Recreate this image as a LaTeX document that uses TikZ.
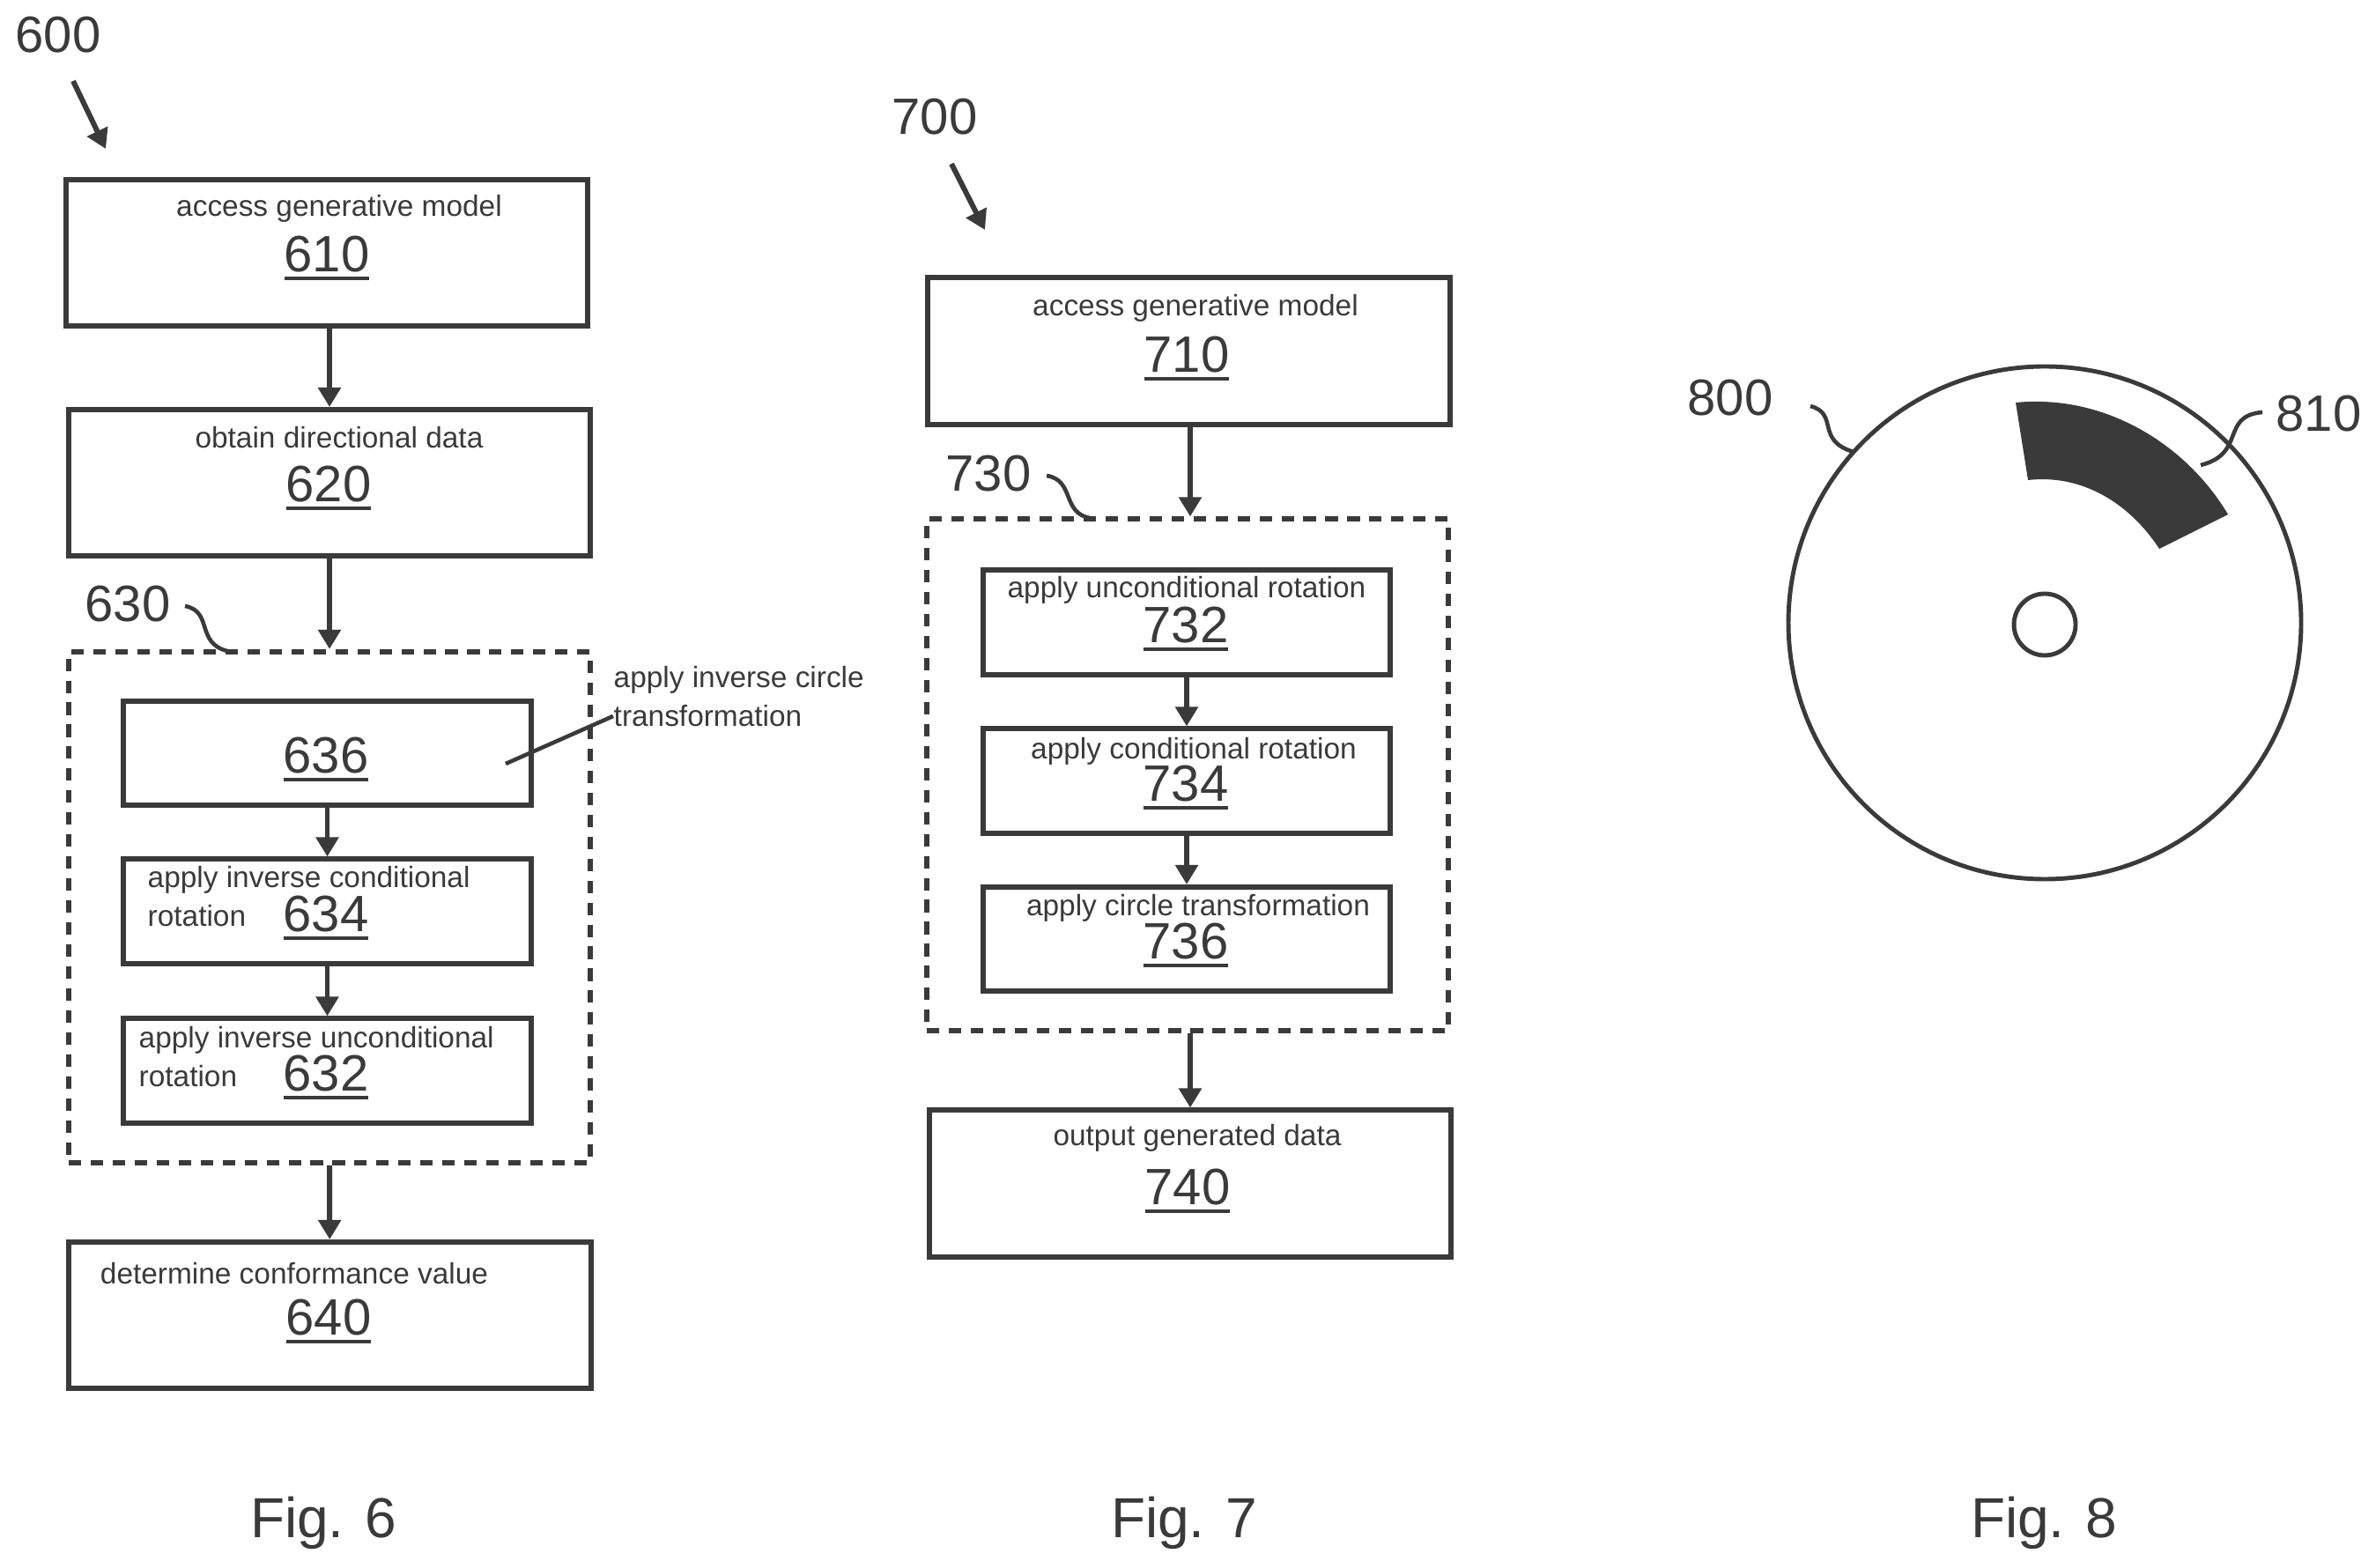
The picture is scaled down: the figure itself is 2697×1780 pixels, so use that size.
\documentclass[tikz,border=0pt]{standalone}
\usepackage{fontspec}
\setmainfont{Liberation Sans}
\usetikzlibrary{arrows.meta, calc, positioning}
\definecolor{ink}{HTML}{3A3A3A}
\newsavebox{\numbox}
\newcommand{\refnum}[1]{\sbox{\numbox}{#1}\rlap{\usebox{\numbox}}\rule[-2.6pt]{\wd\numbox}{1pt}}
\tikzset{
	stepbox/.style={draw=ink, line width=1.7pt, inner sep=0pt},
	bigbox/.style={stepbox, minimum width=5.92cm, minimum height=1.66cm},
	smallbox/.style={stepbox, minimum width=4.62cm, minimum height=1.18cm},
	groupbox/.style={draw=ink, line width=1.7pt, dash pattern=on 4pt off 3.1pt, inner sep=0pt, minimum width=5.92cm},
	flow/.style={draw=ink, line width=1.7pt, ->, >={Stealth[inset=0pt, length=2.2mm, width=2.5mm]}},
	lead/.style={draw=ink, line width=1.3pt},
	lab/.style={text=ink, inner sep=0pt, font=\fontsize{9.5}{12}\selectfont},
	num/.style={text=ink, inner sep=0pt, font=\fontsize{16.5}{18}\selectfont},
	figlab/.style={text=ink, inner sep=0pt, font=\fontsize{18.2}{20}\selectfont}
}
\begin{document}
\begin{tikzpicture}[x=0.01cm, y=-0.01cm]
\useasboundingbox (0,0) rectangle (2697,1780);
% Fig. 6
\node[num] (n600) at (66,40) {600};
\coordinate (a600) at (83,92);
\coordinate (b600) at (120,169);
\draw[flow] (a600) -- (b600);
\node[bigbox] (box610) at (371,287) {};
\node[lab] (t610) at (385,237) {access generative model};
\node[num] (n610) at (371,293) {\refnum{610}};
\node[bigbox] (box620) at (374,548) {};
\node[lab] (t620) at (385,497) {obtain directional data};
\node[num] (n620) at (373,554) {\refnum{620}};
\node[groupbox, minimum height=5.8cm] (box630) at (374,1030) {};
\node[num] (n630) at (145,686) {630};
\coordinate (a630) at (210,688);
\coordinate (b630) at (258,739);
\draw[lead] (a630) .. controls (242,694) and (222,730) .. (b630);
\node[smallbox] (box636) at (371.5,855) {};
\node[num] (n636) at (370,862) {\refnum{636}};
\node[lab, anchor=west] (t636a) at (696,772) {apply inverse circle};
\node[lab, anchor=west] (t636b) at (696,813) {transformation};
\coordinate (c636) at (574,867);
\draw[lead] (t636b.west) -- (c636);
\node[smallbox] (box634) at (371.5,1034.5) {};
\node[lab, anchor=west] (t634a) at (167,999) {apply inverse conditional};
\node[lab, anchor=west] (t634b) at (167,1040) {rotation};
\node[num] (n634) at (370,1042) {\refnum{634}};
\node[smallbox] (box632) at (371.5,1215.5) {};
\node[lab, anchor=west] (t632a) at (157,1181) {apply inverse unconditional};
\node[lab, anchor=west] (t632b) at (157,1222) {rotation};
\node[num] (n632) at (370,1223) {\refnum{632}};
\node[bigbox] (box640) at (374.5,1493) {};
\node[lab] (t640) at (334,1446) {determine conformance value};
\node[num] (n640) at (373,1500) {\refnum{640}};
\draw[flow] (box610.south -| box620.north) -- (box620.north);
\draw[flow] (box620) -- (box630.north);
\draw[flow] (box636) -- (box634);
\draw[flow] (box634) -- (box632);
\draw[flow] (box630.south) -- (box640);
\node[figlab] (fig6) at (367,1729) {Fig. 6};
% Fig. 7
\node[num] (n700) at (1061,133) {700};
\coordinate (a700) at (1080,186);
\coordinate (b700) at (1118,261);
\draw[flow] (a700) -- (b700);
\node[bigbox] (box710) at (1349.5,398.5) {};
\node[lab] (t710) at (1357,350) {access generative model};
\node[num] (n710) at (1347,407) {\refnum{710}};
\node[groupbox, minimum height=5.8cm] (box730) at (1348,879.5) {};
\node[num] (n730) at (1122,538) {730};
\coordinate (a730) at (1188,540);
\coordinate (b730) at (1237,588);
\draw[lead] (a730) .. controls (1220,545) and (1205,582) .. (b730);
\node[smallbox] (box732) at (1347,706.5) {};
\node[lab] (t732) at (1347,670) {apply unconditional rotation};
\node[num] (n732) at (1346,714) {\refnum{732}};
\node[smallbox] (box734) at (1347,886.5) {};
\node[lab] (t734) at (1355,853) {apply conditional rotation};
\node[num] (n734) at (1346,894) {\refnum{734}};
\node[smallbox] (box736) at (1347,1066) {};
\node[lab] (t736) at (1360,1031) {apply circle transformation};
\node[num] (n736) at (1346,1073) {\refnum{736}};
\node[bigbox] (box740) at (1351,1343.5) {};
\node[lab] (t740) at (1359,1292) {output generated data};
\node[num] (n740) at (1348,1352) {\refnum{740}};
\draw[flow] (box710.south -| box740.north) -- (box730.north -| box740.north);
\draw[flow] (box732) -- (box734);
\draw[flow] (box734) -- (box736);
\draw[flow] (box730.south -| box740.north) -- (box740.north);
\node[figlab] (fig7) at (1344,1729) {Fig. 7};
% Fig. 8
\draw[draw=ink, line width=1.4pt] (2321,707) ellipse [x radius=291, y radius=291];
\draw[draw=ink, line width=1.4pt] (2321,709) ellipse [x radius=35, y radius=35];
\fill[ink] (2288,457) .. controls (2390,447) and (2482,505) .. (2529,584)
	-- (2451,623) .. controls (2417,571) and (2363,538) .. (2302,545) -- cycle;
\node[num] (n800) at (1964,452) {800};
\coordinate (a800) at (2055,461);
\coordinate (b800) at (2104,513);
\draw[lead] (a800) .. controls (2088,470) and (2060,500) .. (b800);
\node[num] (n810) at (2632,470) {810};
\coordinate (a810) at (2568,468);
\coordinate (b810) at (2498,528);
\draw[lead] (a810) .. controls (2520,472) and (2550,515) .. (b810);
\node[figlab] (fig8) at (2320,1729) {Fig. 8};
\end{tikzpicture}
\end{document}
